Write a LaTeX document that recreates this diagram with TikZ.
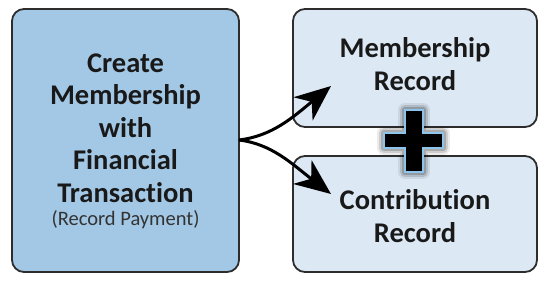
\documentclass[tikz,border=0pt]{standalone}
\usepackage{fontspec}
\setmainfont{Carlito}[Ligatures=NoCommon]
\usetikzlibrary{arrows.meta}
\definecolor{leftfill}{RGB}{163,200,230}
\definecolor{rightfill}{RGB}{220,233,245}
\definecolor{edge}{RGB}{45,45,45}
\definecolor{plusedge}{RGB}{140,196,236}
\tikzset{
  box/.style={draw=edge, line width=1.8pt, rounded corners=12pt, inner sep=0pt},
  btext/.style={font=\bfseries\fontsize{28.5}{32.5}\selectfont, align=center, text=black!90},
  arr/.style={line width=3pt, -{Stealth[length=36pt,width=30pt,inset=11pt]}},
}
\begin{document}
\begin{tikzpicture}[x=1pt,y=-1pt]
\useasboundingbox (0,0) rectangle (554,282);
\path[box, fill=leftfill] (12,9) rectangle (239,272);
\coordinate (L) at (239,140);
\path[box, fill=rightfill] (293,9) rectangle (537,127);
\path[box, fill=rightfill] (293,156) rectangle (537,272);
\node[btext] (t1) at (125.5,128) {Create\\Membership\\with\\Financial\\Transaction};
\node[font=\fontsize{20.5}{24}\selectfont, text=black!80] (t2) at (125.5,220) {(Record Payment)};
\node[btext] (mr) at (415,64) {Membership\\Record};
\node[btext] (cr) at (415,216) {Contribution\\Record};
\coordinate (a1) at (331,86);
\coordinate (a2) at (331,194);
\draw[arr] (L) .. controls (272,136) and (292,118) .. (a1);
\draw[arr] (L) .. controls (272,144) and (292,164) .. (a2);
% plus sign with glow
\def\plusshape{(405,110) -- (423,110) -- (423,133) -- (443,133) -- (443,148) -- (423,148) -- (423,172) -- (405,172) -- (405,148) -- (384,148) -- (384,133) -- (405,133) -- cycle}
\foreach \w/\o in {14/0.08, 10/0.12, 6/0.18}
  \draw[line width=\w pt, black, opacity=\o, line join=round] \plusshape;
\fill[black] \plusshape;
\draw[plusedge, line width=1.8pt] \plusshape;
\end{tikzpicture}
\end{document}
